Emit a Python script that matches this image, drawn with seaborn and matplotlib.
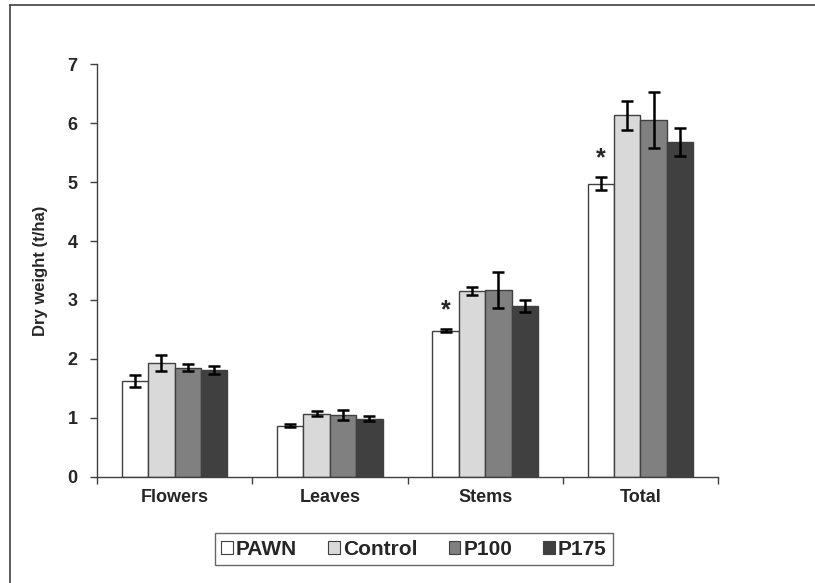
import matplotlib
matplotlib.use("Agg")
import matplotlib.pyplot as plt
import seaborn as sns
import pandas as pd
import numpy as np
from matplotlib.lines import Line2D

parts = ["Flowers", "Leaves", "Stems", "Total"]
treatments = ["PAWN", "Control", "P100", "P175"]

pawn = [1.62, 0.87, 2.48, 4.97]
control = [1.93, 1.07, 3.15, 6.13]
p100 = [1.85, 1.05, 3.17, 6.05]
p175 = [1.81, 0.99, 2.90, 5.68]

pawn_err = [0.10, 0.03, 0.02, 0.11]
control_err = [0.13, 0.04, 0.07, 0.25]
p100_err = [0.06, 0.08, 0.30, 0.47]
p175_err = [0.07, 0.05, 0.10, 0.23]

# asterisk marks on PAWN bars (significant difference)
signif = [False, False, True, True]

colors = ["#ffffff", "#d9d9d9", "#808080", "#404040"]

values = [pawn, control, p100, p175]
errors = [pawn_err, control_err, p100_err, p175_err]
rows = []
for t, vals, errs in zip(treatments, values, errors):
    for p, v, e in zip(parts, vals, errs):
        rows.append({"part": p, "treatment": t, "weight": v, "err": e})
df = pd.DataFrame(rows)

sns.set_style("white")
plt.rcParams["font.family"] = ["Liberation Sans", "DejaVu Sans"]
plt.rcParams["font.weight"] = "bold"

fig = plt.figure(figsize=(8.15, 5.83), dpi=100)
ax = fig.add_axes([0.119, 0.182, 0.762, 0.708])

sns.barplot(data=df, x="part", y="weight", hue="treatment", order=parts,
            hue_order=treatments, palette=colors, width=0.68,
            edgecolor="#404040", linewidth=1.0, errorbar=None, legend=False,
            ax=ax)

# error bars and asterisks, located from the drawn bars
for i, t in enumerate(treatments):
    bars = ax.patches[i * len(parts):(i + 1) * len(parts)]
    xs = [b.get_x() + b.get_width() / 2 for b in bars]
    ax.errorbar(xs, values[i], yerr=errors[i], fmt="none", ecolor="black",
                elinewidth=1.8, capsize=4, capthick=1.8)
    if t == "PAWN":
        for x, v, e, s in zip(xs, values[i], errors[i], signif):
            if s:
                ax.text(x, v + e + 0.12, "*", ha="center", va="bottom",
                        fontsize=18, fontweight="bold")

ax.set_xlim(-0.5, 3.5)
ax.set_ylim(0, 7)
ax.set_yticks(range(0, 8))
ax.set_yticklabels([str(v) for v in range(0, 8)], fontsize=13, fontweight="bold")

ax.set_xticks(np.arange(-0.5, 4, 1))
ax.set_xticklabels([])
ax.set_xticks(range(len(parts)), minor=True)
ax.set_xticklabels(parts, minor=True, fontsize=13, fontweight="bold")
ax.tick_params(axis="x", which="major", direction="out", length=5, width=1,
               color="#404040", bottom=True)
ax.tick_params(axis="x", which="minor", length=0, pad=9)
ax.tick_params(axis="y", direction="out", length=5, width=1, color="#404040",
               left=True, pad=9)

ax.set_xlabel("")
ax.set_ylabel("Dry weight (t/ha)", fontsize=12, fontweight="bold", labelpad=14)

for side in ["top", "right"]:
    ax.spines[side].set_visible(False)
for side in ["left", "bottom"]:
    ax.spines[side].set_color("#404040")
    ax.spines[side].set_linewidth(1)

handles = [plt.Rectangle((0, 0), 1, 1, facecolor=c, edgecolor="#404040",
                         linewidth=0.8) for c in colors]
leg = fig.legend(handles, treatments, loc="center", bbox_to_anchor=(0.508, 0.058),
                 ncol=4, frameon=True, fancybox=False, handlelength=0.55,
                 handleheight=0.55, handletextpad=0.15, columnspacing=1.5,
                 prop={"size": 15, "weight": "bold"}, borderpad=0.3,
                 borderaxespad=0)
leg.get_frame().set_edgecolor("#404040")
leg.get_frame().set_linewidth(1)

# outer frame lines (left and top)
fig.add_artist(Line2D([10 / 815, 10 / 815], [0, 1 - 5 / 583], color="#404040",
                      linewidth=1.2, transform=fig.transFigure))
fig.add_artist(Line2D([10 / 815, 1], [1 - 5 / 583, 1 - 5 / 583], color="#404040",
                      linewidth=1.2, transform=fig.transFigure))

fig.savefig("out.png", dpi=100)
